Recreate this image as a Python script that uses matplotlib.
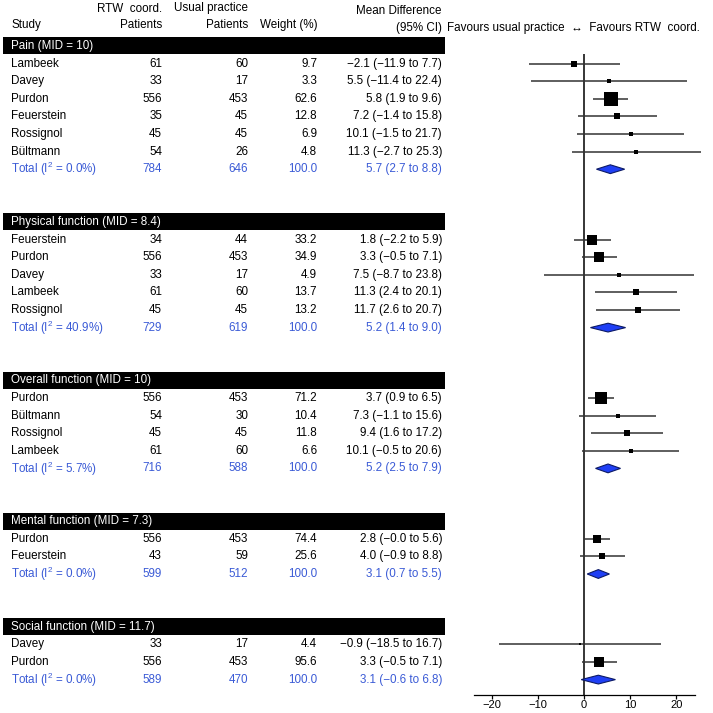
import matplotlib
matplotlib.use("Agg")
import matplotlib.pyplot as plt
from matplotlib.patches import Rectangle, Polygon
import numpy as np

plt.rcParams['font.family'] = ['Liberation Sans', 'DejaVu Sans']
plt.rcParams['mathtext.default'] = 'regular'
plt.rcParams['axes.unicode_minus'] = True

# ---------------- data ----------------
group_titles = ["Pain (MID = 10)", "Physical function (MID = 8.4)",
                "Overall function (MID = 10)", "Mental function (MID = 7.3)",
                "Social function (MID = 11.7)"]

pain_study = ["Lambeek", "Davey", "Purdon", "Feuerstein", "Rossignol", "Bültmann"]
pain_rtw = [61, 33, 556, 35, 45, 54]
pain_usual = [60, 17, 453, 45, 45, 26]
pain_weight = [9.7, 3.3, 62.6, 12.8, 6.9, 4.8]
pain_md = [-2.1, 5.5, 5.8, 7.2, 10.1, 11.3]
pain_lo = [-11.9, -11.4, 1.9, -1.4, -1.5, -2.7]
pain_hi = [7.7, 22.4, 9.6, 15.8, 21.7, 25.3]

phys_study = ["Feuerstein", "Purdon", "Davey", "Lambeek", "Rossignol"]
phys_rtw = [34, 556, 33, 61, 45]
phys_usual = [44, 453, 17, 60, 45]
phys_weight = [33.2, 34.9, 4.9, 13.7, 13.2]
phys_md = [1.8, 3.3, 7.5, 11.3, 11.7]
phys_lo = [-2.2, -0.5, -8.7, 2.4, 2.6]
phys_hi = [5.9, 7.1, 23.8, 20.1, 20.7]

over_study = ["Purdon", "Bültmann", "Rossignol", "Lambeek"]
over_rtw = [556, 54, 45, 61]
over_usual = [453, 30, 45, 60]
over_weight = [71.2, 10.4, 11.8, 6.6]
over_md = [3.7, 7.3, 9.4, 10.1]
over_lo = [0.9, -1.1, 1.6, -0.5]
over_hi = [6.5, 15.6, 17.2, 20.6]

ment_study = ["Purdon", "Feuerstein"]
ment_rtw = [556, 43]
ment_usual = [453, 59]
ment_weight = [74.4, 25.6]
ment_md = [2.8, 4.0]
ment_lo = [-0.0, -0.9]
ment_hi = [5.6, 8.8]

soc_study = ["Davey", "Purdon"]
soc_rtw = [33, 556]
soc_usual = [17, 453]
soc_weight = [4.4, 95.6]
soc_md = [-0.9, 3.3]
soc_lo = [-18.5, -0.5]
soc_hi = [16.7, 7.1]

total_i2 = [0.0, 40.9, 5.7, 0.0, 0.0]
total_rtw = [784, 729, 716, 599, 589]
total_usual = [646, 619, 588, 512, 470]
total_md = [5.7, 5.2, 5.2, 3.1, 3.1]
total_lo = [2.7, 1.4, 2.5, 0.7, -0.6]
total_hi = [8.8, 9.0, 7.9, 5.5, 6.8]

xticks = [-20, -10, 0, 10, 20]

groups = [
    (pain_study, pain_rtw, pain_usual, pain_weight, pain_md, pain_lo, pain_hi),
    (phys_study, phys_rtw, phys_usual, phys_weight, phys_md, phys_lo, phys_hi),
    (over_study, over_rtw, over_usual, over_weight, over_md, over_lo, over_hi),
    (ment_study, ment_rtw, ment_usual, ment_weight, ment_md, ment_lo, ment_hi),
    (soc_study, soc_rtw, soc_usual, soc_weight, soc_md, soc_lo, soc_hi),
]

# ---------------- layout ----------------
W = H = 713
DPI = 100
ROW_PX = 17.6
ROW0_PX = 46.0
FS = 8.4
BLUE_TXT = '#3b5bd6'
DIA_FILL = '#1f3ff5'
DIA_EDGE = '#0c1a66'

def k_of(px):
    return (px - ROW0_PX) / ROW_PX

fig = plt.figure(figsize=(W / DPI, H / DPI), dpi=DPI)
fig.patch.set_facecolor('white')

ax_t = fig.add_axes([0, 0, 1, 1])
ax_t.set_xlim(0, W)
ax_t.set_ylim(k_of(H), k_of(0))
ax_t.axis('off')

# forest axes
f_left, f_right = 474, 695
f_top, f_bot = 54, 695
zero_px, px_per_unit = 584, 4.62
ax_f = fig.add_axes([f_left / W, 1 - f_bot / H, (f_right - f_left) / W, (f_bot - f_top) / H])
ax_f.set_xlim((f_left - zero_px) / px_per_unit, (f_right - zero_px) / px_per_unit)
ax_f.set_ylim(k_of(f_bot), k_of(f_top))
ax_f.patch.set_alpha(0)
for s in ['left', 'top', 'right']:
    ax_f.spines[s].set_visible(False)
ax_f.spines['bottom'].set_linewidth(0.9)
ax_f.set_yticks([])
ax_f.set_xticks(xticks)
ax_f.tick_params(axis='x', labelsize=8.0, length=3.0, width=0.9, pad=0.8)
ax_f.axvline(0, color='black', lw=1.1, zorder=1)

# column x positions (px)
X_STUDY = 11
X_RTW = 162
X_USUAL = 248
X_WEIGHT = 317
X_MD = 442
X_FAV = 447

# headers
ax_t.text(X_STUDY, k_of(25), "Study", fontsize=FS, va='center', ha='left')
ax_t.text(X_RTW, k_of(8.5), "RTW  coord.", fontsize=FS, va='center', ha='right')
ax_t.text(X_RTW, k_of(25), "Patients", fontsize=FS, va='center', ha='right')
ax_t.text(X_USUAL, k_of(8.5), "Usual practice", fontsize=FS, va='center', ha='right')
ax_t.text(X_USUAL, k_of(25), "Patients", fontsize=FS, va='center', ha='right')
ax_t.text(X_WEIGHT, k_of(25), "Weight (%)", fontsize=FS, va='center', ha='right')
ax_t.text(X_MD, k_of(11), "Mean Difference", fontsize=FS, va='center', ha='right')
ax_t.text(X_MD, k_of(28), "(95% CI)", fontsize=FS, va='center', ha='right')
ax_t.text(X_FAV, k_of(28), "Favours usual practice  \u2194  Favours RTW  coord.",
          fontsize=FS, va='center', ha='left')

def fmt(v):
    return f"{v:.1f}".replace('-', '\u2212')

def ci_text(m, lo, hi):
    return f"{fmt(m)} ({fmt(lo)} to {fmt(hi)})"

k = 0
for gi, (title, g) in enumerate(zip(group_titles, groups)):
    study, rtw, usual, weight, md, lo, hi = g
    # band
    ax_t.add_patch(Rectangle((3, k - 0.49), 442, 0.97, facecolor='black', edgecolor='none'))
    ax_t.text(X_STUDY, k, title, color='white', fontsize=FS, va='center', ha='left')
    n = len(study)
    for i in range(n):
        r = k + 1 + i
        ax_t.text(X_STUDY, r, study[i], fontsize=FS, va='center', ha='left')
        ax_t.text(X_RTW, r, str(rtw[i]), fontsize=FS, va='center', ha='right')
        ax_t.text(X_USUAL, r, str(usual[i]), fontsize=FS, va='center', ha='right')
        ax_t.text(X_WEIGHT, r, fmt(weight[i]), fontsize=FS, va='center', ha='right')
        ax_t.text(X_MD, r, ci_text(md[i], lo[i], hi[i]), fontsize=FS, va='center', ha='right')
        ax_f.plot([lo[i], hi[i]], [r, r], color='#333333', lw=1.1, clip_on=False, zorder=2,
                  solid_capstyle='butt')
        side_px = 0.66 * np.sqrt(weight[i] * n) + 0.6
        ax_f.plot([md[i]], [r], marker='s', color='black', ms=side_px * 72 / DPI,
                  mew=0, linestyle='none', zorder=3, clip_on=False)
    r = k + 1 + n
    ax_t.text(X_STUDY, r, f"Total (I$^{{2}}$ = {total_i2[gi]:.1f}%)", fontsize=FS,
              va='center', ha='left', color=BLUE_TXT)
    ax_t.text(X_RTW, r, str(total_rtw[gi]), fontsize=FS, va='center', ha='right', color=BLUE_TXT)
    ax_t.text(X_USUAL, r, str(total_usual[gi]), fontsize=FS, va='center', ha='right', color=BLUE_TXT)
    ax_t.text(X_WEIGHT, r, "100.0", fontsize=FS, va='center', ha='right', color=BLUE_TXT)
    ax_t.text(X_MD, r, ci_text(total_md[gi], total_lo[gi], total_hi[gi]), fontsize=FS,
              va='center', ha='right', color=BLUE_TXT)
    hh = 0.25
    ax_f.add_patch(Polygon([(total_lo[gi], r), (total_md[gi], r - hh), (total_hi[gi], r),
                            (total_md[gi], r + hh)], closed=True, facecolor=DIA_FILL,
                           edgecolor=DIA_EDGE, lw=0.8, zorder=4))
    k = r + 3

fig.savefig("out.png", dpi=DPI, facecolor='white')
